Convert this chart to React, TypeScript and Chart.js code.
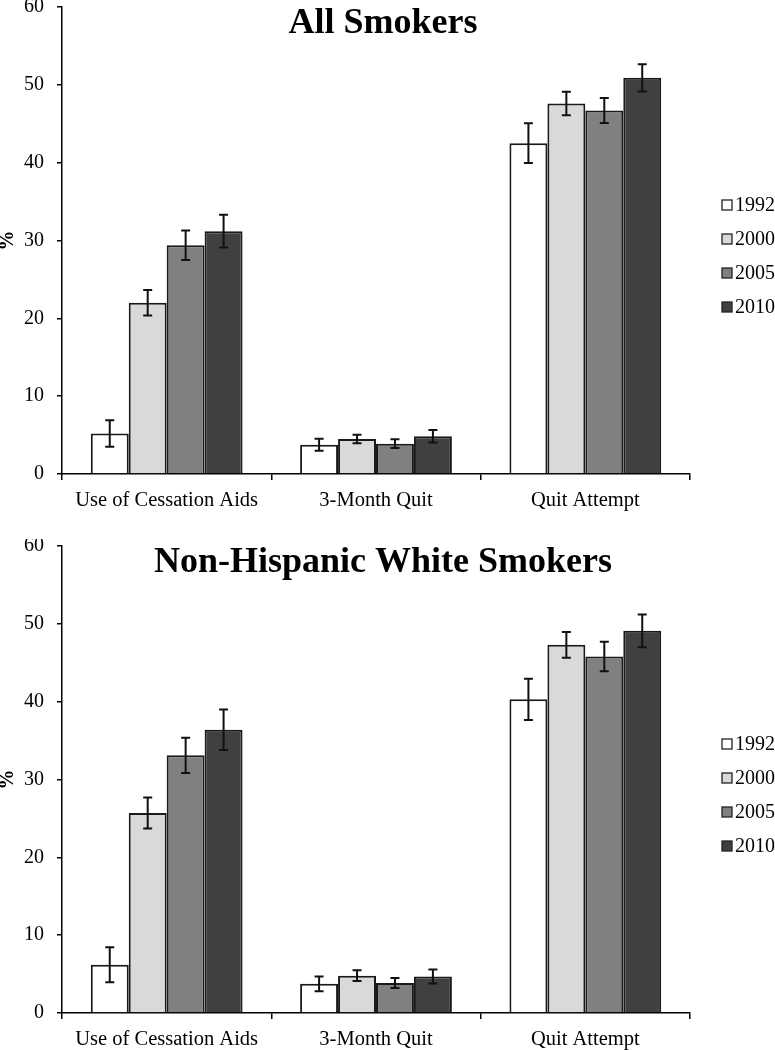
import React, { useEffect, useRef } from "react";
import { Chart, registerables } from "chart.js";

Chart.register(...registerables);

const categories = ["Use of Cessation Aids", "3-Month Quit", "Quit Attempt"];
const years = ["1992", "2000", "2005", "2010"];
const barColors = ["#ffffff", "#d9d9d9", "#808080", "#404040"];
const yTicks = [0, 10, 20, 30, 40, 50, 60];

// All Smokers
const all1992 = [5.2, 3.75, 42.5];
const all2000 = [22.0, 4.5, 47.6];
const all2005 = [29.4, 3.9, 46.7];
const all2010 = [31.2, 4.85, 50.9];
const allErr1992 = [1.7, 0.77, 2.55];
const allErr2000 = [1.65, 0.55, 1.5];
const allErr2005 = [1.9, 0.55, 1.6];
const allErr2010 = [2.1, 0.8, 1.75];

// Non-Hispanic White Smokers
const white1992 = [6.2, 3.75, 40.3];
const white2000 = [25.7, 4.8, 47.3];
const white2005 = [33.1, 3.85, 45.8];
const white2010 = [36.4, 4.7, 49.1];
const whiteErr1992 = [2.25, 0.95, 2.65];
const whiteErr2000 = [2.0, 0.7, 1.65];
const whiteErr2005 = [2.25, 0.65, 1.9];
const whiteErr2010 = [2.6, 0.9, 2.1];

const SERIF = "'Liberation Serif', 'Times New Roman', serif";

const errorBarPlugin = {
  id: "errorBars",
  afterDatasetsDraw(chart: any) {
    const ctx = chart.ctx;
    const yScale = chart.scales.y;
    ctx.save();
    ctx.strokeStyle = "#111";
    ctx.lineWidth = 2;
    chart.data.datasets.forEach((ds: any, i: number) => {
      const meta = chart.getDatasetMeta(i);
      meta.data.forEach((el: any, j: number) => {
        const v = ds.data[j];
        const e = ds.errors[j];
        const yt = yScale.getPixelForValue(v + e);
        const yb = yScale.getPixelForValue(v - e);
        const x = el.x;
        const cap = 4.5;
        ctx.beginPath();
        ctx.moveTo(x, yt);
        ctx.lineTo(x, yb);
        ctx.moveTo(x - cap, yt);
        ctx.lineTo(x + cap, yt);
        ctx.moveTo(x - cap, yb);
        ctx.lineTo(x + cap, yb);
        ctx.stroke();
      });
    });
    ctx.restore();
  },
};

const titleLegendPlugin = {
  id: "titleLegend",
  afterDraw(chart: any) {
    const ctx = chart.ctx;
    const area = chart.chartArea;
    const opts = chart.options.plugins.titleLegend || {};
    ctx.save();
    // Title
    ctx.fillStyle = "#000";
    ctx.font = `bold 36px ${SERIF}`;
    ctx.textAlign = "center";
    ctx.textBaseline = "alphabetic";
    ctx.fillText(opts.text || "", chart.width / 2 - 4.5, area.top + 26);
    // Legend
    ctx.font = `20px ${SERIF}`;
    ctx.textAlign = "left";
    ctx.textBaseline = "middle";
    chart.data.datasets.forEach((ds: any, i: number) => {
      const y = area.top + 198 + i * 34;
      const x = area.right + 32;
      ctx.fillStyle = ds.backgroundColor;
      ctx.fillRect(x, y - 5, 10, 10);
      ctx.strokeStyle = "#222";
      ctx.lineWidth = 1.3;
      ctx.strokeRect(x, y - 5, 10, 10);
      ctx.fillStyle = "#000";
      ctx.fillText(ds.label, x + 13, y + 1);
    });
    ctx.restore();
  },
};

type PanelProps = {
  title: string;
  values: number[][];
  errors: number[][];
  top: number;
};

function ChartPanel({ title, values, errors, top }: PanelProps) {
  const ref = useRef<HTMLCanvasElement | null>(null);
  useEffect(() => {
    if (!ref.current) return;
    const chart = new Chart(ref.current, {
      type: "bar",
      data: {
        labels: categories,
        datasets: years.map((yr, i) => ({
          label: yr,
          data: values[i],
          errors: errors[i],
          backgroundColor: barColors[i],
          borderColor: "#1a1a1a",
          borderWidth: 2,
          categoryPercentage: 0.725,
          barPercentage: 1.0,
        })) as any,
      },
      options: {
        responsive: false,
        animation: false,
        devicePixelRatio: 1,
        layout: { padding: { top: 7, right: 85, left: 0, bottom: 0 } },
        plugins: {
          legend: { display: false },
          tooltip: { enabled: false },
          titleLegend: { text: title },
        } as any,
        scales: {
          x: {
            type: "category",
            offset: true,
            grid: {
              display: true,
              drawOnChartArea: false,
              drawTicks: true,
              tickLength: 6,
              color: "#000",
              lineWidth: 1.5,
              offset: true,
            },
            border: { display: true, color: "#000", width: 1.5 },
            ticks: {
              color: "#000",
              font: { family: SERIF, size: 20.5 },
              padding: 8,
              maxRotation: 0,
              autoSkip: false,
            },
            afterFit: (s: any) => {
              s.height = 37;
              s.paddingLeft = 0;
              s.paddingRight = 0;
            },
          },
          y: {
            min: 0,
            max: 60,
            afterBuildTicks: (s: any) => {
              s.ticks = yTicks.map((v) => ({ value: v }));
            },
            grid: {
              display: true,
              drawOnChartArea: false,
              drawTicks: true,
              tickLength: 5,
              color: "#000",
              lineWidth: 1.5,
            },
            border: { display: true, color: "#000", width: 1.5 },
            ticks: {
              color: "#000",
              font: { family: SERIF, size: 20 },
              padding: 13,
            },
            title: {
              display: true,
              text: "%",
              color: "#000",
              font: { family: SERIF, size: 20, weight: "bold", lineHeight: 0.8 },
              padding: 0,
            },
            afterFit: (s: any) => {
              s.width = 62;
              s.paddingTop = 0;
              s.paddingBottom = 0;
            },
          },
        },
      } as any,
      plugins: [errorBarPlugin, titleLegendPlugin],
    });
    return () => chart.destroy();
  }, [title, values, errors]);

  return (
    <div style={{ position: "absolute", left: 0, top, width: 775, height: 511 }}>
      <canvas ref={ref} width={775} height={511} style={{ width: 775, height: 511 }} />
    </div>
  );
}

export default function App() {
  return (
    <div
      style={{
        position: "absolute",
        left: 0,
        top: 0,
        width: 775,
        height: 1050,
        background: "#fff",
        overflow: "hidden",
      }}
    >
      <ChartPanel
        title="All Smokers"
        values={[all1992, all2000, all2005, all2010]}
        errors={[allErr1992, allErr2000, allErr2005, allErr2010]}
        top={0}
      />
      <ChartPanel
        title="Non-Hispanic White Smokers"
        values={[white1992, white2000, white2005, white2010]}
        errors={[whiteErr1992, whiteErr2000, whiteErr2005, whiteErr2010]}
        top={539}
      />
    </div>
  );
}
